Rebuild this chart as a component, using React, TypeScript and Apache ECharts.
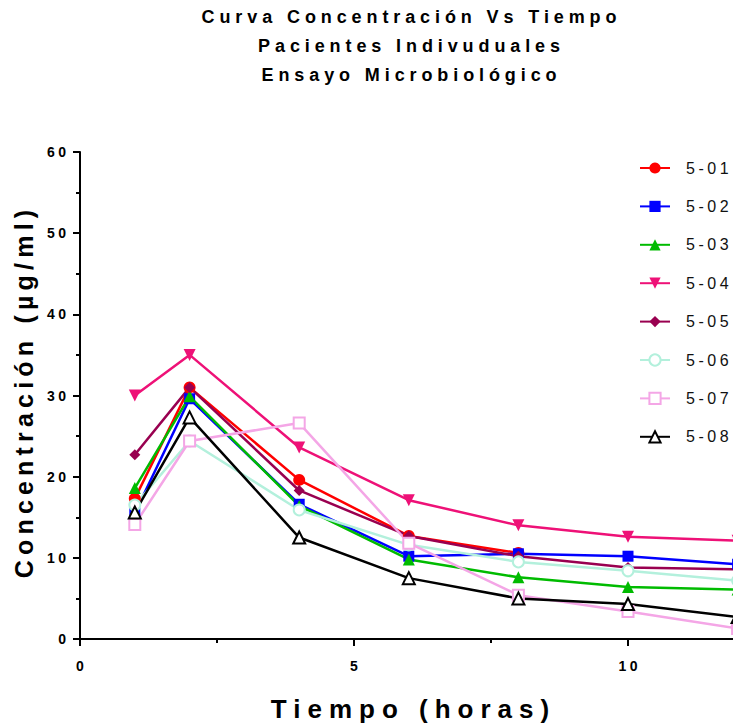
import React, { useEffect, useRef } from "react";
import * as echarts from "echarts";

const titleLines = [
  "Curva Concentración Vs Tiempo",
  "Pacientes Indivuduales",
  "Ensayo Microbiológico",
];
const xTitle = "Tiempo (horas)";
const yTitle = "Concentración (µg/ml)";

const times = [1, 2, 4, 6, 8, 10, 12];
const seriesNames = ["5-01", "5-02", "5-03", "5-04", "5-05", "5-06", "5-07", "5-08"];
const s501 = [17.3, 31.0, 19.6, 12.7, 10.6, null, null];
const s502 = [15.5, 29.6, 16.6, 10.2, 10.5, 10.2, 9.2];
const s503 = [18.6, 29.9, 16.4, 9.8, 7.6, 6.4, 6.1];
const s504 = [30.0, 35.0, 23.6, 17.1, 14.0, 12.6, 12.1];
const s505 = [22.7, 31.0, 18.3, 12.7, 10.2, 8.8, 8.6];
const s506 = [16.5, 24.4, 15.9, 11.6, 9.5, 8.4, 7.2];
const s507 = [14.1, 24.4, 26.6, 11.8, 5.4, 3.4, 1.3];
const s508 = [15.6, 27.3, 12.5, 7.5, 5.0, 4.3, 2.7];
const allValues = [s501, s502, s503, s504, s505, s506, s507, s508];

const looks = [
  { color: "#ff0000", symbol: "circle", size: 12, rotate: 0 },
  { color: "#0000ff", symbol: "rect", size: 11, rotate: 0 },
  { color: "#00bb00", symbol: "triangle", size: 12, rotate: 0 },
  { color: "#ee1177", symbol: "triangle", size: 12, rotate: 180 },
  { color: "#990050", symbol: "diamond", size: 11, rotate: 0 },
  { color: "#b3f0dc", symbol: "emptyCircle", size: 11, rotate: 0 },
  { color: "#f4a6e6", symbol: "emptyRect", size: 11, rotate: 0 },
  { color: "#000000", symbol: "emptyTriangle", size: 12, rotate: 0 },
];

const FONT = '"Liberation Sans", Arial, Helvetica, sans-serif';
const titleY = [16.8, 45.8, 75.1];

export default function App() {
  const ref = useRef<HTMLDivElement>(null);
  useEffect(() => {
    if (!ref.current) return;
    const chart = echarts.init(ref.current, undefined, { renderer: "svg" });
    const series = seriesNames.map((name, i) => ({
      name,
      type: "line",
      data: times
        .map((t, j) => [t, allValues[i][j]])
        .filter((d) => d[1] !== null),
      symbol: looks[i].symbol,
      symbolSize: looks[i].size,
      symbolRotate: looks[i].rotate,
      showAllSymbol: true,
      lineStyle: { color: looks[i].color, width: 2.5 },
      itemStyle: looks[i].symbol.startsWith("empty")
        ? { color: looks[i].color, borderWidth: 2 }
        : { color: looks[i].color },
      emphasis: { disabled: true },
    }));
    chart.setOption({
      animation: false,
      backgroundColor: "#ffffff",
      graphic: titleLines.map((t, i) => ({
        type: "text",
        x: 411.5,
        y: titleY[i],
        style: {
          text: t,
          fontSize: 18,
          fontWeight: "bold",
          fontFamily: FONT,
          fill: "#000",
          align: "center",
          verticalAlign: "middle",
        },
      })),
      legend: {
        orient: "vertical",
        left: 639,
        top: 160,
        padding: 0,
        itemWidth: 30,
        itemHeight: 14,
        itemGap: 22.4,
        selectedMode: false,
        data: seriesNames,
        textStyle: {
          fontSize: 16,
          fontFamily: FONT,
          color: "#111",
          lineHeight: 14,
          padding: [0, 0, 0, 11],
        },
      },
      grid: {
        left: 80,
        right: -169,
        top: 152,
        bottom: 88,
        containLabel: false,
        outerBoundsMode: "none",
      },
      xAxis: {
        type: "value",
        min: 0,
        max: 15,
        interval: 5,
        name: xTitle,
        nameLocation: "middle",
        nameGap: 57,
        nameTextStyle: {
          fontSize: 26,
          fontWeight: "bold",
          fontFamily: FONT,
          color: "#000",
          padding: [0, 155, 0, 0],
        },
        axisLine: { show: true, onZero: false, lineStyle: { color: "#000", width: 2 } },
        axisTick: { show: true, length: 7, lineStyle: { color: "#000", width: 2 } },
        minorTick: { show: true, splitNumber: 2, length: 4, lineStyle: { color: "#000", width: 2 } },
        splitLine: { show: false },
        axisLabel: {
          fontSize: 14,
          fontWeight: "bold",
          fontFamily: FONT,
          color: "#000",
          margin: 20,
          padding: [0, 0, 0, 3.5],
          showMaxLabel: false,
        },
      },
      yAxis: {
        type: "value",
        min: 0,
        max: 60,
        interval: 10,
        name: yTitle,
        nameLocation: "middle",
        nameGap: 44,
        nameTextStyle: {
          fontSize: 25,
          fontWeight: "bold",
          fontFamily: FONT,
          color: "#000",
          padding: [0, 0, 0, 8],
        },
        axisLine: { show: true, onZero: false, lineStyle: { color: "#000", width: 2 } },
        axisTick: { show: true, length: 7, lineStyle: { color: "#000", width: 2 } },
        minorTick: { show: true, splitNumber: 2, length: 4, lineStyle: { color: "#000", width: 2 } },
        splitLine: { show: false },
        axisLabel: {
          fontSize: 14,
          fontWeight: "bold",
          fontFamily: FONT,
          color: "#000",
          margin: 10.5,
        },
      },
      series,
    });
    return () => chart.dispose();
  }, []);
  return (
    <>
      <style>{`
        #chartbox text[style*="18px"] { letter-spacing: 4.9px; }
        #chartbox text[style*="26px"] { letter-spacing: 7px; }
        #chartbox text[style*="25px"] { letter-spacing: 5.2px; }
        #chartbox text[style*="16px"] { letter-spacing: 3.5px; }
        #chartbox text[style*="14px"] { letter-spacing: 3.5px; }
      `}</style>
      <div
        id="chartbox"
        ref={ref}
        style={{ position: "absolute", left: 0, top: 0, width: 733, height: 727, overflow: "hidden" }}
      />
    </>
  );
}
